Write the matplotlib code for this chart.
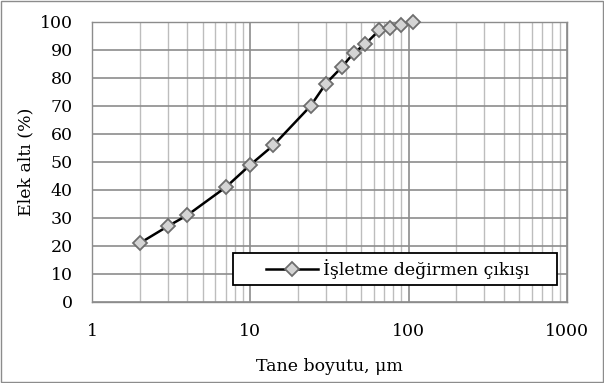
import matplotlib.pyplot as plt
from matplotlib.patches import Rectangle
from matplotlib.ticker import LogLocator, FixedLocator, NullFormatter

plt.rcParams["font.family"] = ["DejaVu Serif"]

# particle size (um) and cumulative passing (%)
size_um = [2, 3, 4, 7, 10, 14, 24, 30, 38, 45, 53, 65, 76, 90, 106]
passing = [21, 27, 31, 41, 49, 56, 70, 78, 84, 89, 92, 97, 98, 99, 100]

series_label = "İşletme değirmen çıkışı"
x_ticks = [1, 10, 100, 1000]
x_ticklabels = ["1", "10", "100", "1000"]
y_ticks = list(range(0, 101, 10))

fig = plt.figure(figsize=(6.04, 3.83), dpi=100)
ax = fig.add_axes([92 / 604, 1 - 302 / 383, 475 / 604, 280 / 383])

ax.plot(size_um, passing, color="black", linewidth=1.8, marker="D",
        markersize=7.5, markerfacecolor="#d4d4d4", markeredgecolor="#6e6e6e",
        markeredgewidth=1.3, label=series_label, zorder=3, clip_on=False)

ax.set_xscale("log")
ax.set_xlim(1, 1000)
ax.set_ylim(0, 100)
ax.xaxis.set_major_locator(FixedLocator(x_ticks))
ax.set_xticklabels(x_ticklabels)
ax.xaxis.set_minor_locator(LogLocator(base=10, subs=range(2, 10)))
ax.xaxis.set_minor_formatter(NullFormatter())
ax.set_yticks(y_ticks)

ax.grid(True, which="major", color="#8c8c8c", linewidth=1.2)
ax.grid(True, which="minor", axis="x", color="#bdbdbd", linewidth=1.0)
ax.set_axisbelow(True)
for sp in ax.spines.values():
    sp.set_color("#8c8c8c")
    sp.set_linewidth(1.0)
ax.tick_params(which="both", length=0, labelsize=12.5)
ax.tick_params(axis="x", pad=15)
ax.tick_params(axis="y", pad=14)

ax.set_xlabel("Tane boyutu, μm", fontsize=12.5, labelpad=13)
ax.set_ylabel("Elek altı (%)", fontsize=12.5, labelpad=4)

# legend box drawn separately so the padding can be wider than the entry
ax.add_patch(Rectangle((0.297, 0.061), 0.682, 0.114, transform=ax.transAxes,
                       facecolor="white", edgecolor="black", linewidth=1.3,
                       zorder=5))
leg = ax.legend(loc="center", bbox_to_anchor=(0.644, 0.118), fontsize=12.5,
                frameon=False, handlelength=3.0, borderpad=0.0,
                handletextpad=0.3)
leg.set_zorder(6)

# chart border
fig.patches.append(Rectangle((0.002, 0.003), 0.996, 0.994, transform=fig.transFigure,
                             fill=False, edgecolor="#8c8c8c", linewidth=1.0))

plt.savefig("out.png", dpi=100)
